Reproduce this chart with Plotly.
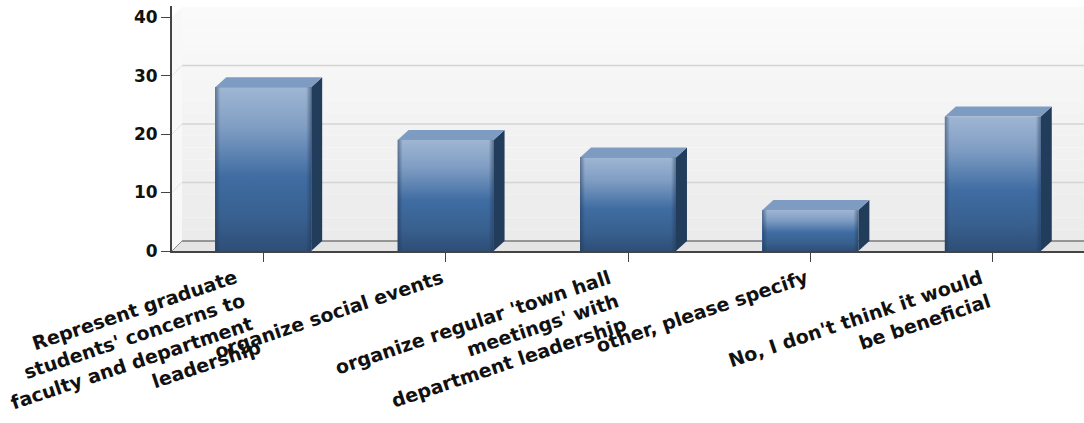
import plotly.graph_objects as go

categories = ["Represent graduate<br>students' concerns to<br>faculty and department<br>leadership",
              "organize social events",
              "organize regular 'town hall<br>meetings' with<br>department leadership",
              "other, please specify",
              "No, I don't think it would<br>be beneficial"]
values = [28, 19, 16, 7, 23]
y_ticks = [0, 10, 20, 30, 40]

BAR_W = 0.526
DX = 11 / 182.5      # depth in category units
DY = 10 / 5.85       # depth in value units
WALL_X = 10 / 182.5
X0, X1 = -0.5, 4.5
Y_TOP = 41.9
FONT = "DejaVu Sans"

fig = go.Figure()
shapes = []

# back wall, vertical gradient
wall_l = X0 + WALL_X
N = 20
c_top, c_bot = (251, 251, 251), (235, 235, 235)
for i in range(N):
    t = i / N
    col = tuple(round(c_bot[k] + (c_top[k] - c_bot[k]) * t) for k in range(3))
    a = DY + 40 * i / N
    b = DY + 40 * (i + 1) / N
    shapes.append(dict(type="rect", layer="below", x0=wall_l, x1=X1, y0=a, y1=b,
                       line_width=0, fillcolor=f"rgb{col}"))
# side wall
shapes.append(dict(type="path", layer="below", line_width=0, fillcolor="#f8f8f8",
                   path=f"M {X0} 0 L {wall_l} {DY} L {wall_l} {40+DY} L {X0} 40 Z"))
# floor
shapes.append(dict(type="path", layer="below", line_width=0, fillcolor="#e4e4e4",
                   path=f"M {X0} 0 L {wall_l} {DY} L {X1} {DY} L {X1} 0 Z"))
# gridlines on the wall and diagonals on the side wall
for v in y_ticks[:-1]:
    col = "#7a7a7a" if v == 0 else "#d4d4d4"
    shapes.append(dict(type="line", layer="below", x0=wall_l, x1=X1, y0=v + DY, y1=v + DY,
                       line=dict(color=col, width=1.5)))
    shapes.append(dict(type="line", layer="below", x0=X0, x1=wall_l, y0=v, y1=v + DY,
                       line=dict(color="#8a8a8a" if v == 0 else "#e2e2e2", width=1)))

# bar bodies
fig.add_trace(go.Bar(x=list(range(len(values))), y=values, width=BAR_W,
                     marker=dict(color="#3f6ca2", line_width=0), hoverinfo="skip", showlegend=False))

GRAD = [[0, "#2e4e76"], [0.2, "#38608f"], [0.45, "#3f6ca2"], [0.75, "#7f9dc3"], [1, "#9fb6d3"]]
for i, v in enumerate(values):
    l, r = i - BAR_W / 2, i + BAR_W / 2
    # side face
    fig.add_trace(go.Scatter(x=[r, r + DX, r + DX, r, r], y=[0, DY, v + DY, v, 0], mode="lines",
                             fill="toself", fillcolor="#223c5b", line=dict(width=0),
                             hoverinfo="skip", showlegend=False))
    # top face
    fig.add_trace(go.Scatter(x=[l, l + DX, r + DX, r, l], y=[v, v + DY, v + DY, v, v], mode="lines",
                             fill="toself", fillcolor="#7e9cc2", line=dict(width=0),
                             hoverinfo="skip", showlegend=False))
    # front gradient
    fig.add_trace(go.Scatter(x=[l, r, r, l, l], y=[0, 0, v, v, 0], mode="lines", fill="toself",
                             fillgradient=dict(type="vertical", colorscale=GRAD),
                             line=dict(width=0), hoverinfo="skip", showlegend=False))
    # edge shading
    e = 5 / 182.5
    fig.add_trace(go.Scatter(x=[l, l + e, l + e, l, l], y=[0, 0, v, v, 0], mode="lines", fill="toself",
                             fillgradient=dict(type="horizontal",
                                               colorscale=[[0, "rgba(30,50,80,0.5)"], [1, "rgba(30,50,80,0)"]]),
                             line=dict(width=0), hoverinfo="skip", showlegend=False))
    fig.add_trace(go.Scatter(x=[r - e, r, r, r - e, r - e], y=[0, 0, v, v, 0], mode="lines", fill="toself",
                             fillgradient=dict(type="horizontal",
                                               colorscale=[[0, "rgba(30,50,80,0)"], [1, "rgba(30,50,80,0.5)"]]),
                             line=dict(width=0), hoverinfo="skip", showlegend=False))

annotations = []
for i, c in enumerate(categories):
    annotations.append(dict(x=i, y=0, xref="x", yref="y", text=c, showarrow=False,
                            textangle=-18.5, xanchor="right", yanchor="top", align="right",
                            yshift=-12, xshift=3,
                            font=dict(family=FONT, size=19, color="#111111", weight="bold")))

fig.update_layout(
    width=1084, height=423, margin=dict(l=172, r=0, t=6, b=172),
    paper_bgcolor="white", plot_bgcolor="white", showlegend=False, bargap=0,
    shapes=shapes, annotations=annotations,
    xaxis=dict(range=[X0, X1], tickvals=list(range(len(values))), showticklabels=False,
               ticks="outside", ticklen=9, tickcolor="#444444", tickwidth=1,
               showgrid=False, zeroline=False, showline=True, linecolor="#444444", linewidth=2),
    yaxis=dict(range=[0, Y_TOP], tickvals=y_ticks, ticks="outside", ticklen=9, tickcolor="#444444",
               tickwidth=1, showgrid=False, zeroline=False, showline=True, linecolor="#444444",
               linewidth=2, tickfont=dict(family=FONT, size=17, color="#111111", weight="bold")),
)
fig.write_html("out.html", config=dict(displayModeBar=False),
               post_script="document.body.style.margin='0';document.body.style.overflow='hidden';")
